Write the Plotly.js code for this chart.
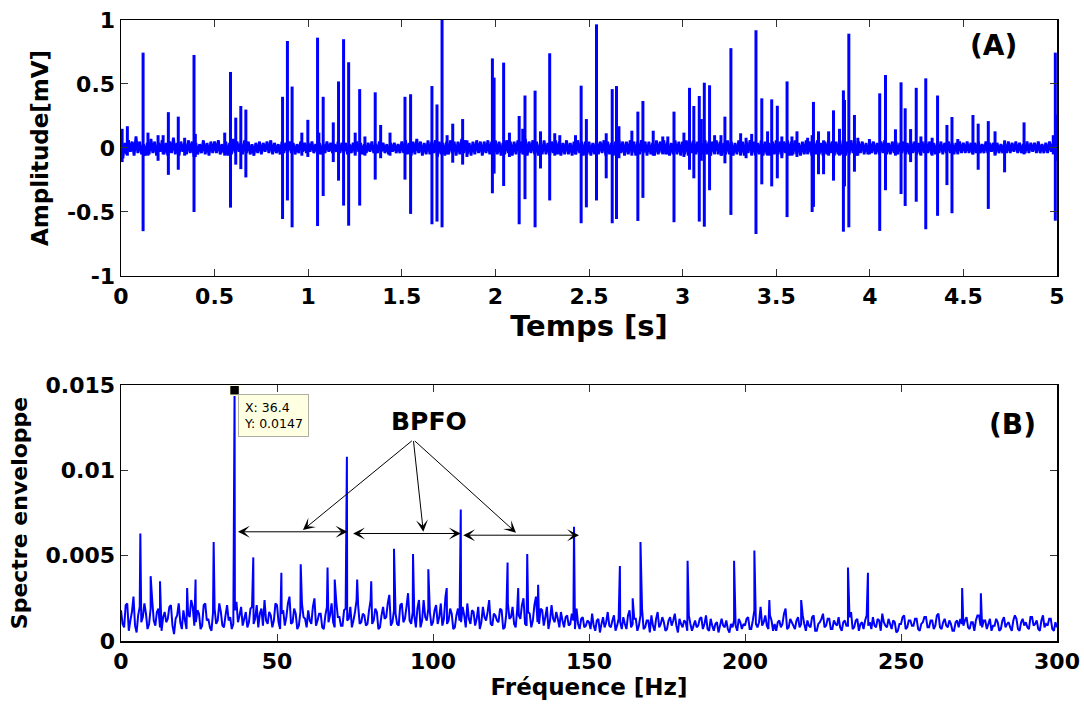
<!DOCTYPE html>
<html>
<head>
<meta charset="utf-8">
<script src="https://cdn.plot.ly/plotly-3.0.1.min.js"></script>
<style>html,body{margin:0;padding:0;background:#fff;}#chart{width:1084px;height:705px;}</style>
</head>
<body>
<div id="chart"></div>
<script>
// ---------- (A) time signal ----------
// background noise, one sample every 0.01 s from 0 to 5 s (mV)
const noiseStep = 0.01;
const noiseTop = [
 0.05,-0.08,0.04,-0.05,0.06,-0.03,0.05,-0.06,0.09,-0.04,0.05,-0.05,0.03,-0.06,0.04,-0.05,0.07,-0.04,0.05,-0.06,0.04,-0.03,0.06,-0.05,0.04,
 -0.06,0.05,-0.04,0.08,-0.05,0.04,-0.06,0.05,-0.03,0.04,-0.05,0.06,-0.04,0.05,-0.07,0.04,-0.05,0.03,-0.04,0.06,-0.05,0.04,-0.06,0.05,-0.04,
 0.05,-0.04,0.06,-0.05,0.03,-0.04,0.05,-0.06,0.04,-0.05,0.07,-0.04,0.05,-0.03,0.04,-0.05,0.06,-0.04,0.05,-0.05,0.03,-0.06,0.04,-0.04,0.05,
 -0.05,0.04,-0.03,0.05,-0.04,0.06,-0.05,0.04,-0.04,0.03,-0.05,0.05,-0.04,0.04,-0.03,0.05,-0.04,0.04,-0.05,0.03,-0.04,0.05,-0.03,0.04,-0.04,
 0.04,-0.03,0.05,-0.04,0.03,-0.04,0.04,-0.05,0.03,-0.04,0.05,-0.03,0.04,-0.04,0.03,-0.03,0.05,-0.04,0.04,-0.03,0.04,-0.05,0.03,-0.04,0.04,
 -0.04,0.05,-0.03,0.04,-0.05,0.03,-0.04,0.04,-0.03,0.05,-0.04,0.03,-0.04,0.05,-0.03,0.04,-0.04,0.03,-0.05,0.04,-0.03,0.04,-0.04,0.03,-0.04,
 0.05,-0.04,0.06,-0.05,0.04,-0.06,0.05,-0.05,0.07,-0.04,0.05,-0.06,0.04,-0.05,0.06,-0.05,0.05,-0.04,0.06,-0.07,0.05,-0.05,0.04,-0.06,0.05,
 -0.05,0.06,-0.04,0.05,-0.06,0.05,-0.05,0.07,-0.04,0.06,-0.05,0.04,-0.06,0.05,-0.05,0.06,-0.04,0.05,-0.06,0.05,-0.04,0.06,-0.05,0.05,-0.06,
 0.06,-0.05,0.05,-0.06,0.04,-0.05,0.06,-0.04,0.05,-0.06,0.05,-0.05,0.06,-0.04,0.05,-0.05,0.07,-0.06,0.05,-0.04,0.06,-0.05,0.05,-0.06,0.04,
 -0.05,0.06,-0.05,0.04,-0.06,0.05,-0.04,0.06,-0.05,0.05,-0.06,0.04,-0.05,0.06,-0.05,0.04,-0.06,0.05,-0.05,0.06,-0.04,0.05,-0.06,0.05,-0.05,
 0.05,-0.06,0.04,-0.05,0.06,-0.05,0.05,-0.04,0.06,-0.06,0.05,-0.05,0.04,-0.06,0.05,-0.05,0.06,-0.04,0.05,-0.06,0.05,-0.05,0.06,-0.04,0.05,
 -0.06,0.05,-0.05,0.06,-0.04,0.05,-0.06,0.05,-0.05,0.04,-0.06,0.06,-0.05,0.05,-0.04,0.06,-0.05,0.05,-0.06,0.04,-0.05,0.06,-0.05,0.05,-0.06,
 0.05,-0.05,0.06,-0.06,0.05,-0.04,0.06,-0.05,0.05,-0.06,0.04,-0.05,0.06,-0.05,0.05,-0.06,0.05,-0.04,0.06,-0.05,0.05,-0.06,0.04,-0.05,0.06,
 -0.05,0.05,-0.06,0.04,-0.05,0.06,-0.05,0.05,-0.06,0.05,-0.04,0.06,-0.05,0.05,-0.06,0.04,-0.05,0.06,-0.06,0.05,-0.05,0.04,-0.06,0.05,-0.05,
 0.06,-0.05,0.05,-0.06,0.05,-0.04,0.06,-0.06,0.05,-0.05,0.06,-0.05,0.04,-0.06,0.05,-0.05,0.06,-0.04,0.05,-0.06,0.05,-0.05,0.06,-0.05,0.04,
 -0.06,0.05,-0.05,0.06,-0.04,0.05,-0.06,0.05,-0.05,0.06,-0.05,0.04,-0.06,0.05,-0.05,0.06,-0.04,0.05,-0.06,0.05,-0.04,0.05,-0.05,0.04,-0.05,
 0.05,-0.04,0.05,-0.05,0.04,-0.05,0.05,-0.04,0.06,-0.05,0.04,-0.05,0.05,-0.04,0.05,-0.05,0.04,-0.04,0.05,-0.05,0.04,-0.05,0.05,-0.04,0.05,
 -0.05,0.04,-0.05,0.05,-0.04,0.05,-0.04,0.05,-0.05,0.04,-0.05,0.04,-0.04,0.05,-0.05,0.04,-0.04,0.05,-0.04,0.04,-0.05,0.04,-0.04,0.05,-0.04,
 0.04,-0.04,0.05,-0.04,0.04,-0.05,0.04,-0.04,0.05,-0.04,0.03,-0.04,0.05,-0.04,0.04,-0.03,0.04,-0.05,0.04,-0.04,0.03,-0.04,0.04,-0.04,0.05,
 -0.04,0.04,-0.03,0.05,-0.04,0.04,-0.04,0.03,-0.04,0.05,-0.04,0.04,-0.03,0.04,-0.04,0.05,-0.04,0.03,-0.04,0.04,-0.04,0.05,-0.03,0.04,-0.04,
 0.04
];
// impulses: time (s), positive peak, negative peak (mV)
const spikeTime = [0.006,0.034,0.118,0.144,0.198,0.225,0.253,0.306,0.340,0.390,0.397,0.554,0.585,0.613,0.640,0.667,0.863,0.889,0.914,0.966,
 0.998,1.050,1.057,1.080,1.134,1.162,1.189,1.216,1.251,1.275,1.303,1.358,1.387,1.437,1.517,1.547,1.661,1.688,1.715,1.742,
 1.772,1.825,1.848,1.984,1.993,2.044,2.075,2.127,2.146,2.158,2.212,2.241,2.290,2.317,2.344,2.428,2.458,2.486,2.540,2.592,
 2.624,2.647,2.660,2.729,2.761,2.788,2.843,2.894,2.921,2.954,3.007,3.037,3.060,3.089,3.100,3.116,3.144,3.171,3.205,3.226,
 3.258,3.310,3.339,3.369,3.392,3.423,3.454,3.476,3.506,3.530,3.558,3.584,3.611,3.668,3.692,3.699,3.726,3.753,3.780,3.806,
 3.838,3.859,3.865,3.888,3.918,3.936,3.998,4.053,4.084,4.137,4.167,4.189,4.218,4.248,4.273,4.299,4.333,4.362,4.412,4.439,
 4.470,4.551,4.579,4.633,4.669,4.720,4.824,4.980,4.991,4.996];
const spikePos = [0.15,0.17,0.745,0.12,0.10,0.10,0.28,0.245,0.08,0.727,0.11,0.12,0.594,0.237,0.328,0.30,0.40,0.836,0.48,0.12,
 0.22,0.862,0.12,0.40,0.20,0.52,0.85,0.67,0.12,0.46,0.09,0.435,0.18,0.12,0.40,0.42,0.484,0.34,1.0,0.10,
 0.19,0.226,0.06,0.70,0.55,0.667,0.12,0.25,0.15,0.41,0.448,0.13,0.74,0.115,0.10,0.10,0.487,0.226,0.966,0.115,
 0.46,0.484,0.17,0.135,0.284,0.367,0.135,0.09,0.09,0.284,0.12,0.47,0.328,0.406,0.226,0.51,0.49,0.10,0.10,0.245,
 0.78,0.115,0.08,0.11,0.92,0.388,0.13,0.38,0.33,0.09,0.52,0.09,0.13,0.08,0.10,0.36,0.13,0.06,0.13,0.294,
 0.15,0.45,0.375,0.893,0.258,0.08,0.07,0.427,0.57,0.146,0.513,0.31,0.148,0.47,0.09,0.544,0.08,0.41,0.18,0.242,
 0.07,0.258,0.19,0.21,0.13,0.06,0.20,0.10,0.745,0.26];
const spikeNeg = [-0.11,-0.06,-0.65,-0.06,-0.10,-0.05,-0.21,-0.17,-0.06,-0.50,-0.07,-0.06,-0.466,-0.13,-0.165,-0.23,-0.555,-0.41,-0.62,-0.06,
 -0.07,-0.61,-0.05,-0.375,-0.11,-0.255,-0.45,-0.607,-0.06,-0.45,-0.06,-0.247,-0.08,-0.06,-0.247,-0.515,-0.596,-0.575,-0.62,-0.05,
 -0.115,-0.13,-0.07,-0.354,-0.20,-0.297,-0.07,-0.596,-0.05,-0.40,-0.62,-0.16,-0.41,-0.06,-0.05,-0.05,-0.588,-0.464,-0.41,-0.237,
 -0.588,-0.555,-0.08,-0.06,-0.57,-0.39,-0.06,-0.05,-0.05,-0.58,-0.07,-0.17,-0.237,-0.575,-0.10,-0.615,-0.33,-0.05,-0.06,-0.12,
 -0.523,-0.06,-0.08,-0.06,-0.672,-0.284,-0.06,-0.30,-0.237,-0.08,-0.54,-0.06,-0.07,-0.05,-0.50,-0.46,-0.205,-0.205,-0.06,-0.255,
 -0.06,-0.654,-0.30,-0.62,-0.185,-0.06,-0.05,-0.648,-0.33,-0.06,-0.36,-0.453,-0.11,-0.42,-0.06,-0.635,-0.06,-0.53,-0.29,-0.51,
 -0.05,-0.05,-0.17,-0.476,-0.06,-0.19,-0.05,-0.05,-0.568,-0.10];

// ---------- (B) envelope spectrum ----------
// background level, one value every 0.5 Hz from 0 to 300 Hz (units of 1e-4)
const specStep = 0.5;
const specUnit = 1e-4;
const specNoise = [
 18,10,8,21,22,6,12,17,26,9,5,15,20,11,14,22,16,7,10,19,
 24,12,9,17,19,8,6,14,17,11,13,20,21,9,4,13,15,22,11,7,
 18,12,7,16,14,24,20,9,11,18,16,7,9,21,22,12,13,8,6,17,
 19,10,12,22,17,9,8,15,21,12,14,7,10,18,23,11,15,20,9,13,
 17,8,11,19,20,10,13,21,8,16,19,9,24,12,10,17,15,8,12,22,
 21,11,7,16,18,9,14,22,26,10,11,19,16,7,9,17,22,14,13,8,
 18,12,10,20,25,9,12,16,16,8,7,15,20,11,15,22,11,8,23,14,
 14,9,9,18,19,12,13,20,8,12,17,24,21,10,11,16,15,9,10,18,
 24,10,12,19,17,7,8,15,20,13,14,22,27,9,11,18,16,10,9,21,
 22,11,13,20,28,12,10,17,15,8,19,24,8,12,24,14,12,19,17,9,
 11,18,21,10,14,22,9,13,26,10,12,19,16,7,8,15,19,12,11,20,
 15,8,22,13,10,18,17,9,13,20,7,11,20,14,12,17,24,10,9,16,
 15,12,11,19,18,7,8,16,22,13,14,20,10,8,19,15,13,21,25,10,
 9,17,16,8,12,21,26,11,10,19,18,9,14,20,7,12,21,13,11,17,
 13,8,17,12,8,14,15,9,10,16,12,7,19,10,7,13,14,8,9,12,
 11,7,16,9,6,12,13,5,10,14,8,11,17,9,8,12,15,6,9,13,
 11,7,14,10,7,15,18,8,10,13,13,6,9,15,19,7,8,12,12,5,
 15,9,6,13,17,8,10,14,11,6,7,12,14,9,12,16,9,5,13,10,
 8,12,11,6,15,10,6,9,12,8,9,13,14,7,10,15,7,6,13,9,
 6,10,11,5,9,13,9,8,12,7,5,10,8,12,9,6,13,11,7,10,
 9,13,14,7,7,12,18,10,8,11,20,9,11,15,9,7,15,12,6,10,
 6,11,12,8,10,16,19,7,8,13,11,9,7,12,14,8,10,15,10,6,
 12,9,8,14,15,6,6,10,11,13,16,8,9,13,13,7,7,12,10,9,
 14,8,6,11,12,9,9,14,17,7,8,12,13,6,10,11,7,12,15,9,
 11,7,14,9,8,13,12,6,16,11,9,8,13,10,7,12,11,5,6,10,
 10,14,15,7,8,12,12,9,9,13,13,7,6,10,11,14,14,8,8,12,
 12,7,9,15,16,8,7,11,13,9,8,12,10,6,6,11,12,8,13,10,
 9,12,14,8,7,11,11,6,12,15,15,9,8,12,12,7,10,13,6,9,
 9,13,11,6,7,12,14,8,10,11,8,6,12,15,13,7,6,11,13,9,
 11,8,7,14,14,9,10,12,7,6,12,15,8,10,9,13,13,7,6,11,
 8
];
// spectral lines: frequency (Hz) and amplitude
const peakFreq = [6.2,9.5,12.5,21.2,23.9,29.7,36.4,42.4,51.4,57.6,66.2,68.5,72.4,75.7,80.2,87.5,93.6,98.5,104.4,108.9,
 123.9,127.3,130.2,133.7,145.2,159.9,164.0,166.5,181.6,196.5,203.0,207.8,218.0,233.0,239.4,269.6,275.6];
const peakAmp = [0.0063,0.0038,0.0035,0.0031,0.0036,0.0058,0.0147,0.0049,0.0040,0.0045,0.0043,0.0036,0.0108,0.0036,0.0035,0.0054,0.0051,0.0042,0.0031,0.0077,
 0.0046,0.0031,0.0051,0.0033,0.0067,0.0044,0.0025,0.0058,0.0047,0.0047,0.0053,0.0024,0.0024,0.0043,0.0040,0.0031,0.0028];
const tipX = 36.4, tipY = 0.0147;

// tick labels
const ampTicks = [-1,-0.5,0,0.5,1];
const ampTickText = ['-1','-0.5','0','0.5','1'];
const timeTicks = [0,0.5,1,1.5,2,2.5,3,3.5,4,4.5,5];
const freqTicks = [0,50,100,150,200,250,300];
const specTicks = [0,0.005,0.01,0.015];
const specTickText = ['0','0.005','0.01','0.015'];

// ---------- build traces ----------
const tNoise = noiseTop.map((v,i)=>i*noiseStep);
const sx = [], sy = [];
spikeTime.forEach((t,i)=>{ sx.push(t,t,null); sy.push(spikePos[i],spikeNeg[i],null); });

const fx = [], fy = [];
specNoise.forEach((v,i)=>{
  const f0 = i*specStep;
  fx.push(f0); fy.push(v*specUnit);
  peakFreq.forEach((f,k)=>{ if (f>=f0 && f<f0+specStep){ fx.push(f); fy.push(peakAmp[k]); } });
});

const blue = '#0000ff';
const traces = [
  {x:tNoise, y:noiseTop, xaxis:'x', yaxis:'y', type:'scatter', mode:'lines', line:{color:blue,width:2.8,simplify:false}, hoverinfo:'skip'},
  {x:sx, y:sy, xaxis:'x', yaxis:'y', type:'scatter', mode:'lines', line:{color:blue,width:3,simplify:false}, connectgaps:false, hoverinfo:'skip'},
  {x:fx, y:fy, xaxis:'x2', yaxis:'y2', type:'scatter', mode:'lines', line:{color:blue,width:2,simplify:false}, hoverinfo:'skip'},
  {x:[tipX], y:[tipY], xaxis:'x2', yaxis:'y2', type:'scatter', mode:'markers', cliponaxis:false,
   marker:{symbol:'square', size:10, color:'#000', line:{color:'#ffffd8', width:1.5}}, hoverinfo:'skip'}
];

const FONT = 'DejaVu Sans, Arial, sans-serif';
const axisBase = {showline:true, mirror:'ticks', linecolor:'#000', linewidth:1.5, ticks:'inside', ticklen:7,
  tickcolor:'#333', tickwidth:1, showgrid:false, zeroline:false, fixedrange:true};

const arrowStyle = {showarrow:true, text:'', arrowcolor:'#000', arrowwidth:1, arrowsize:2, arrowhead:3,
  xref:'x2', yref:'y2', axref:'x2', ayref:'y2'};
const bpfoFrom = {f:93.7, a:0.0118};

const layout = {
  width:1084, height:705,
  paper_bgcolor:'#fff', plot_bgcolor:'#fff',
  margin:{l:121, r:27, t:20, b:64},
  showlegend:false,
  font:{family:FONT, color:'#000'},
  xaxis: Object.assign({}, axisBase, {domain:[0,1], anchor:'y', range:[0,5], tickvals:timeTicks,
    tickfont:{family:FONT, size:22, weight:'bold', color:'#000'},
    title:{text:'Temps [s]', font:{family:FONT, size:29, weight:'bold', color:'#000'}, standoff:6}}),
  yaxis: Object.assign({}, axisBase, {domain:[0.5878,1], anchor:'x', range:[-1,1], tickvals:ampTicks, ticktext:ampTickText,
    tickfont:{family:FONT, size:22, weight:'bold', color:'#000'},
    title:{text:'Amplitude[mV]', font:{family:FONT, size:23, weight:'bold', color:'#000'}, standoff:12}}),
  xaxis2: Object.assign({}, axisBase, {domain:[0,1], anchor:'y2', range:[0,300], tickvals:freqTicks,
    tickfont:{family:FONT, size:22, weight:'bold', color:'#000'},
    title:{text:'Fréquence [Hz]', font:{family:FONT, size:23, weight:'bold', color:'#000'}, standoff:6}}),
  yaxis2: Object.assign({}, axisBase, {domain:[0,0.4122], anchor:'x2', range:[0,0.015], tickvals:specTicks, ticktext:specTickText,
    tickfont:{family:FONT, size:22, weight:'bold', color:'#000'},
    title:{text:'Spectre enveloppe', font:{family:FONT, size:22, weight:'bold', color:'#000'}, standoff:12}}),
  annotations: [
    {text:'(A)', xref:'x', yref:'y', x:4.663, y:0.797, showarrow:false, font:{family:FONT, size:28, weight:'bold', color:'#000'}},
    {text:'(B)', xref:'x2', yref:'y2', x:285.6, y:0.01266, showarrow:false, font:{family:FONT, size:28, weight:'bold', color:'#000'}},
    {text:'BPFO', xref:'x2', yref:'y2', x:98.7, y:0.01285, showarrow:false, font:{family:FONT, size:25, weight:'bold', color:'#000'}},
    {text:'X: 36.4<br>Y: 0.0147', xref:'x2', yref:'y2', x:37.4, y:0.0145, xanchor:'left', yanchor:'top', align:'left',
     showarrow:false, bgcolor:'#ffffe1', bordercolor:'#b0b0a0', borderwidth:1, borderpad:5,
     font:{family:FONT, size:12.5, color:'#000'}},
    // double arrows between harmonics
    Object.assign({}, arrowStyle, {x:72.6, y:0.0064, ax:37.0, ay:0.0064, arrowside:'end+start'}),
    Object.assign({}, arrowStyle, {x:108.9, y:0.0063, ax:73.9, ay:0.0063, arrowside:'end+start'}),
    Object.assign({}, arrowStyle, {x:146.8, y:0.0062, ax:109.2, ay:0.0062, arrowside:'end+start'}),
    // BPFO pointers
    Object.assign({}, arrowStyle, {x:58.3, y:0.0065, ax:bpfoFrom.f, ay:bpfoFrom.a}),
    Object.assign({}, arrowStyle, {x:96.9, y:0.0064, ax:bpfoFrom.f, ay:bpfoFrom.a}),
    Object.assign({}, arrowStyle, {x:126.6, y:0.00635, ax:bpfoFrom.f, ay:bpfoFrom.a})
  ]
};

Plotly.newPlot('chart', traces, layout, {staticPlot:true, displayModeBar:false});
</script>
</body>
</html>
